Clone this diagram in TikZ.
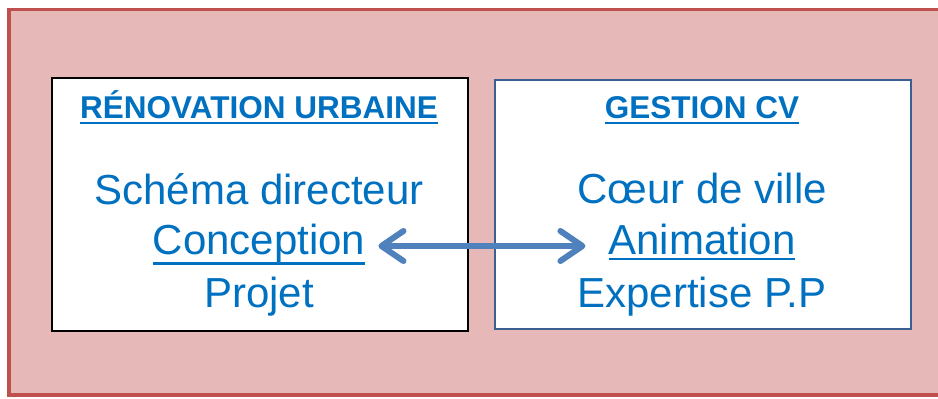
\documentclass[tikz,border=0pt]{standalone}
\usepackage{fontspec}
\setmainfont{Liberation Sans}
\usetikzlibrary{arrows.meta}
\definecolor{txtblue}{HTML}{0070C0}
\definecolor{pinkfill}{HTML}{E6B9B8}
\definecolor{redline}{HTML}{C0504D}
\definecolor{boxblue}{HTML}{3A5F93}
\definecolor{arrblue}{HTML}{4F81BD}
\newcommand\myul[3]{\setbox0\hbox{#1}\rlap{\rule[-#2]{\wd0}{#3}}\box0}
\begin{document}
\begin{tikzpicture}[x=1pt,y=-1pt,
  outerbox/.style={draw=redline,fill=pinkfill,line width=3.5pt},
  leftbox/.style={draw=black,fill=white,line width=2pt},
  rightbox/.style={draw=boxblue,fill=white,line width=2pt},
  titletext/.style={anchor=base,inner sep=0pt,text=txtblue,font=\fontsize{31.5}{36}\selectfont\bfseries},
  bodytext/.style={anchor=base,inner sep=0pt,text=txtblue,font=\fontsize{42}{48}\selectfont,text height=30pt,text depth=10pt},
  arr/.style={arrblue,line width=6pt,{Straight Barb[length=22pt,width=30pt,line cap=round,line join=round]}-{Straight Barb[length=22pt,width=30pt,line cap=round,line join=round]}}
]
\useasboundingbox (0,0) rectangle (938,399);
\path[outerbox] (9,9.5) rectangle (950,395);
\node[leftbox,minimum width=416pt,minimum height=253pt,anchor=north west,inner sep=0pt] (lbox) at (51,77) {};
\node[rightbox,minimum width=416pt,minimum height=249pt,anchor=north west,inner sep=0pt] (rbox) at (494,79) {};
\node[titletext] (ltitle) at (259,118) {\myul{RÉNOVATION URBAINE}{6pt}{2.5pt}};
\node[titletext] (rtitle) at (702,118) {\myul{GESTION CV}{6pt}{2.5pt}};
\node[bodytext] (schema) at (259,204) {Schéma directeur};
\node[bodytext] (conc) at (259,254) {\myul{Conception}{10.5pt}{2.5pt}};
\node[bodytext] (projet) at (259,307) {Projet};
\node[bodytext] (coeur) at (702,203) {Cœur de ville};
\node[bodytext] (anim) at (702,254) {\myul{Animation}{6pt}{2.5pt}};
\node[bodytext] (expert) at (702,307) {Expertise P.P};
\draw[arr] ([xshift=13pt,yshift=-2pt]conc.east) -- ([xshift=-23pt,yshift=-2pt]anim.west);
\end{tikzpicture}
\end{document}
